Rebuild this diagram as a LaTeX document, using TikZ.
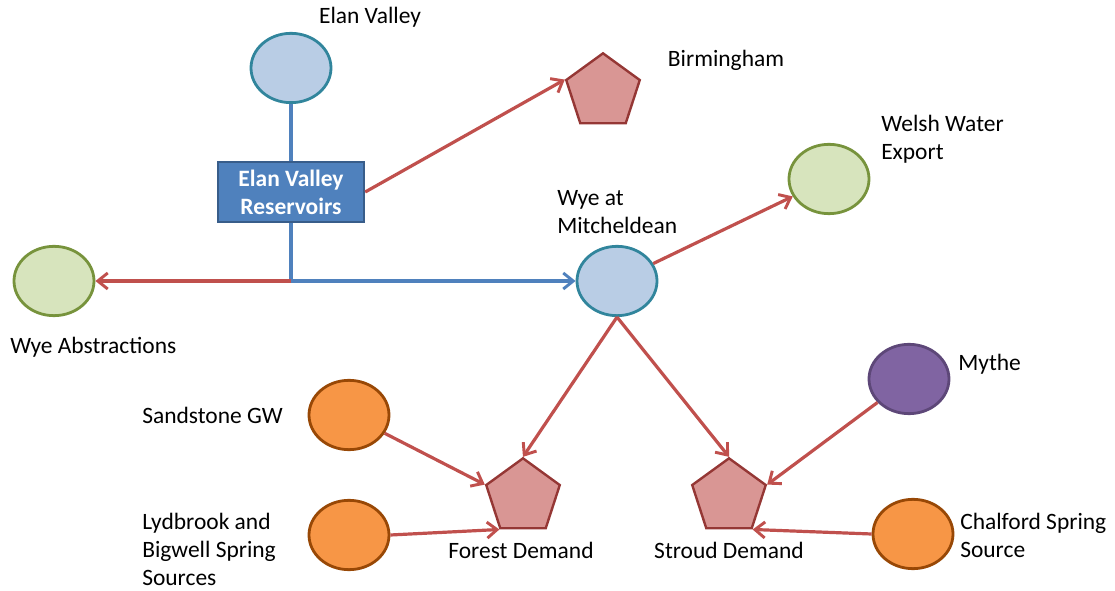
\documentclass[tikz,border=0pt]{standalone}
\usepackage{fontspec}
\setmainfont{Carlito}
\usetikzlibrary{shapes.geometric,arrows.meta}

\definecolor{lineRed}{RGB}{192,80,77}
\definecolor{lineBlue}{RGB}{79,129,189}
\definecolor{ovalBlue}{RGB}{185,205,229}
\definecolor{ovalBlueRim}{RGB}{49,133,156}
\definecolor{ovalGreen}{RGB}{215,228,189}
\definecolor{ovalGreenRim}{RGB}{119,147,60}
\definecolor{ovalOrange}{RGB}{247,150,70}
\definecolor{ovalOrangeRim}{RGB}{152,72,6}
\definecolor{ovalPurple}{RGB}{128,100,162}
\definecolor{ovalPurpleRim}{RGB}{93,71,120}
\definecolor{pentaRed}{RGB}{217,150,148}
\definecolor{pentaRedRim}{RGB}{149,55,53}
\definecolor{boxBlueRim}{RGB}{56,93,138}

\begin{document}
\begin{tikzpicture}[x=0.75pt,y=0.75pt,yscale=-1,xscale=1,
    every node/.style={font=\fontsize{17.6}{21}\selectfont},
    oval/.style={ellipse,line width=2.1pt,minimum width=60pt,minimum height=52pt,inner sep=0pt},
    riveroval/.style={oval,draw=ovalBlueRim,fill=ovalBlue},
    exportoval/.style={oval,draw=ovalGreenRim,fill=ovalGreen},
    sourceoval/.style={oval,draw=ovalOrangeRim,fill=ovalOrange},
    mytheoval/.style={oval,draw=ovalPurpleRim,fill=ovalPurple},
    demand/.style={regular polygon,regular polygon sides=5,draw=pentaRedRim,fill=pentaRed,line width=1.8pt,minimum size=58pt,inner sep=0pt},
    resbox/.style={rectangle,draw=boxBlueRim,fill=lineBlue,line width=1.8pt,minimum width=109.5pt,minimum height=45pt,text=white,font=\fontsize{17.6}{21}\selectfont\bfseries,align=center,inner sep=0pt},
    txt/.style={inner sep=0pt,align=left},
    redflow/.style={draw=lineRed,line width=2.4pt,-{Straight Barb[length=7.5pt,width=12pt,line width=2.2pt]}},
    blueflow/.style={draw=lineBlue,line width=2.4pt,-{Straight Barb[length=7.5pt,width=12pt,line width=2.2pt]}},
    bluelink/.style={draw=lineBlue,line width=2.4pt}
]
\useasboundingbox (0,0) rectangle (1115,591);

%Shape: Ellipse
\node [riveroval] (elan) at (291,68) {};
\node [riveroval] (wye) at (617,281) {};
\node [exportoval] (welsh) at (829,179) {};
\node [exportoval] (abstr) at (54,281) {};
\node [sourceoval] (sand) at (349,415) {};
\node [sourceoval] (lyd) at (349,535) {};
\node [sourceoval] (chal) at (913,534) {};
\node [mytheoval] (mythe) at (909,379) {};
%Shape: Pentagon
\node [demand] (birm) at (603,92) {};
\node [demand] (forest) at (523,497) {};
\node [demand] (stroud) at (729,497) {};
%Shape: Rectangle
\node [resbox] (res) at (291,192) {Elan Valley\\Reservoirs};
\coordinate (split) at (291,281);

% Text Node
\node [txt] (elanlbl) at (370,17) {Elan Valley};
% Text Node
\node [txt] (birmlbl) at (726,60) {Birmingham};
% Text Node
\node [txt,anchor=west] (welshlbl) at (881,139) {Welsh Water\\Export};
% Text Node
\node [txt,anchor=west] (wyelbl) at (557,212) {Wye at\\Mitcheldean};
% Text Node
\node [txt,anchor=west] (abstrlbl) at (10,347) {Wye Abstractions};
% Text Node
\node [txt,anchor=west] (sandlbl) at (142,415) {Sandstone GW};
% Text Node
\node [txt,anchor=west] (lydlbl) at (142,549) {Lydbrook and\\Bigwell Spring\\Sources};
% Text Node
\node [txt] (forestlbl) at (521,550) {Forest Demand};
% Text Node
\node [txt] (stroudlbl) at (729,550) {Stroud Demand};
% Text Node
\node [txt,anchor=west] (mythelbl) at (958,364) {Mythe};
% Text Node
\node [txt,anchor=west] (challbl) at (960,535) {Chalford Spring\\Source};

% links
\draw [bluelink] (elan.south) -- (res.north);
\draw [bluelink] (res.south) -- (split);
\draw [blueflow] (split) -- (wye.west);
\draw [redflow] (split) -- (abstr.east);
\draw [redflow] (res.east) -- (birm.corner 2);
\draw [redflow] (wye) -- (welsh);
\draw [redflow] (wye.south) -- (forest.corner 1);
\draw [redflow] (wye.south) -- (stroud.corner 1);
\draw [redflow] (sand) -- (forest.corner 2);
\draw [redflow] (lyd.east) -- (forest.corner 3);
\draw [redflow] (mythe) -- (stroud.corner 5);
\draw [redflow] (chal.west) -- (stroud.corner 4);
\end{tikzpicture}
\end{document}
